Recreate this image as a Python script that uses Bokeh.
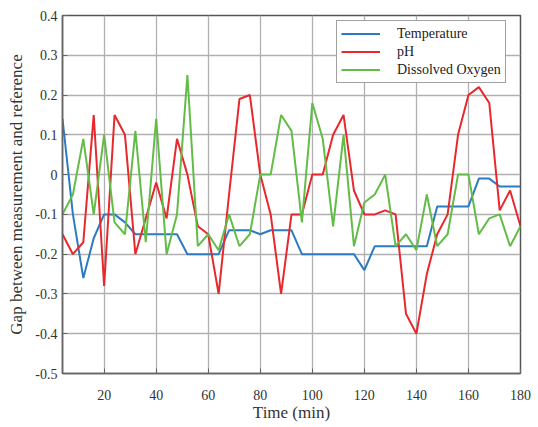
from bokeh.plotting import figure
from bokeh.models import FixedTicker, Range1d, Legend, LegendItem
from bokeh.embed import file_html
from bokeh.resources import INLINE

time_min = [4, 8, 12, 16, 20, 24, 28, 32, 36, 40, 44, 48, 52, 56, 60, 64, 68, 72, 76, 80,
            84, 88, 92, 96, 100, 104, 108, 112, 116, 120, 124, 128, 132, 136, 140, 144,
            148, 152, 156, 160, 164, 168, 172, 176, 180]

temperature = [0.14, -0.10, -0.26, -0.16, -0.10, -0.10, -0.12, -0.15, -0.15, -0.15, -0.15,
               -0.15, -0.20, -0.20, -0.20, -0.20, -0.14, -0.14, -0.14, -0.15, -0.14, -0.14,
               -0.14, -0.20, -0.20, -0.20, -0.20, -0.20, -0.20, -0.24, -0.18, -0.18, -0.18,
               -0.18, -0.18, -0.18, -0.08, -0.08, -0.08, -0.08, -0.01, -0.01, -0.03, -0.03,
               -0.03]

ph = [-0.15, -0.20, -0.17, 0.15, -0.28, 0.15, 0.10, -0.20, -0.11, -0.02, -0.11, 0.09, 0.00,
      -0.13, -0.15, -0.30, -0.05, 0.19, 0.20, 0.00, -0.10, -0.30, -0.10, -0.10, 0.00, 0.00,
      0.10, 0.15, -0.04, -0.10, -0.10, -0.09, -0.10, -0.35, -0.40, -0.25, -0.15, -0.10,
      0.10, 0.20, 0.22, 0.18, -0.09, -0.04, -0.13]

dissolved_oxygen = [-0.10, -0.05, 0.09, -0.10, 0.10, -0.12, -0.15, 0.11, -0.17, 0.14, -0.20,
                    -0.10, 0.25, -0.18, -0.15, -0.19, -0.10, -0.18, -0.15, 0.00, 0.00, 0.15,
                    0.11, -0.12, 0.18, 0.09, -0.13, 0.10, -0.18, -0.07, -0.05, 0.00, -0.18,
                    -0.15, -0.19, -0.05, -0.18, -0.15, 0.00, 0.00, -0.15, -0.11, -0.10, -0.18,
                    -0.13]

x_ticks = [20, 40, 60, 80, 100, 120, 140, 160, 180]
y_labels = ["-0.5", "-0.4", "-0.3", "-0.2", "-0.1", "0", "0.1", "0.2", "0.3", "0.4"]
y_ticks = [float(s) for s in y_labels]

series_names = ["Temperature", "pH", "Dissolved Oxygen"]
series_colors = ["#2c7bc2", "#e8282c", "#63bc47"]

FONT = "Liberation Serif"
TXT = "#333333"

p = figure(frame_width=458, frame_height=358, output_backend="svg", toolbar_location=None,
           title=None, x_range=Range1d(4, 180), y_range=Range1d(-0.5, 0.4),
           min_border_left=62, min_border_right=18, min_border_top=15, min_border_bottom=54,
           background_fill_color="white", border_fill_color="white")

p.outline_line_color = "#555555"
p.outline_line_width = 1.5

p.axis.major_tick_in = 5
p.axis.major_tick_out = 0
p.axis.minor_tick_line_color = None
p.axis.axis_line_color = "#666666"
p.axis.axis_line_width = 1.5
p.axis.major_tick_line_color = "#666666"
p.xaxis.major_label_text_font = FONT
p.yaxis.major_label_text_font = FONT
p.axis.major_label_text_font_size = "14px"
p.axis.major_label_text_color = TXT
p.axis.axis_label_text_font = FONT
p.axis.axis_label_text_font_size = "17px"
p.axis.axis_label_text_font_style = "normal"
p.axis.axis_label_text_color = TXT

p.xaxis.ticker = FixedTicker(ticks=x_ticks)
p.yaxis.ticker = FixedTicker(ticks=y_ticks)
p.yaxis.major_label_overrides = {t: s for t, s in zip(y_ticks, y_labels)}
p.xaxis.major_label_standoff = 16
p.yaxis.major_label_standoff = 5
p.xaxis.axis_label = "Time (min)"
p.yaxis.axis_label = "Gap between measurement and reference"
p.xaxis.axis_label_standoff = 0
p.yaxis.axis_label_standoff = 6

p.xgrid.ticker = FixedTicker(ticks=x_ticks)
p.ygrid.ticker = FixedTicker(ticks=y_ticks)
p.grid.grid_line_color = "#b0b0b0"
p.grid.grid_line_width = 1.3

items = []
for name, vals, col in zip(series_names, [temperature, ph, dissolved_oxygen], series_colors):
    r = p.line(time_min, vals, line_color=col, line_width=2)
    items.append(LegendItem(label=name, renderers=[r]))

legend = Legend(items=items, location=(274, 290), orientation="vertical")
legend.label_text_font = FONT
legend.label_text_font_size = "14px"
legend.label_text_color = "#222222"
legend.glyph_width = 39
legend.glyph_height = 17
legend.label_height = 17
legend.label_standoff = 17
legend.spacing = 1
legend.padding = 4
legend.margin = 0
legend.border_line_color = "#444444"
legend.border_line_width = 1.5
legend.background_fill_color = "white"
legend.background_fill_alpha = 1
p.add_layout(legend, "center")

open("out.html", "w").write(file_html(p, INLINE))
